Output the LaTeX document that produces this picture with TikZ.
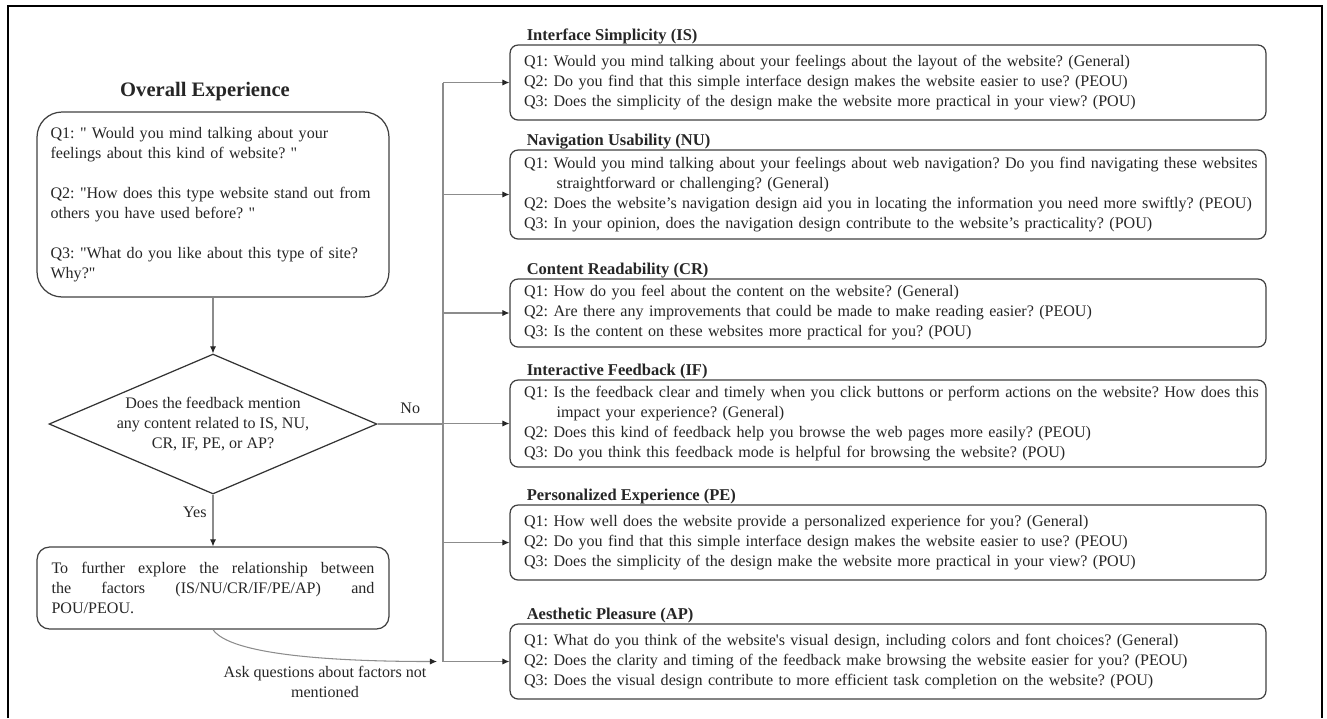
\documentclass[tikz,border=0pt]{standalone}
\usepackage{fontspec}
\newfontfamily\figfont{Liberation Serif}
\usetikzlibrary{positioning,shapes.geometric,arrows.meta}

\begin{document}
\figfont\frenchspacing
\begin{tikzpicture}[
    x=0.02cm, y=-0.02cm,
    txt/.style={font=\fontsize{9.15}{11.4}\selectfont, text=black!85},
    qbox/.style={txt, draw=black!75, line width=0.7pt, rounded corners=0.16cm,
        text width=14.56cm, inner xsep=0.28cm, inner ysep=0pt, align=left},
    qtitle/.style={font=\fontsize{9.4}{11.4}\selectfont\bfseries, text=black!85, inner sep=0pt},
    obox/.style={txt, draw=black!75, line width=0.7pt, rounded corners=0.5cm,
        text width=6.5cm, inner xsep=0.27cm, minimum height=3.7cm, align=left},
    ebox/.style={txt, draw=black!75, line width=0.7pt, rounded corners=0.25cm,
        text width=6.46cm, inner xsep=0.29cm, minimum height=1.64cm, align=justify},
    decide/.style={txt, diamond, draw=black!80, line width=0.7pt, align=center,
        minimum width=6.56cm, minimum height=2.8cm, aspect=2.3, inner sep=0pt},
    link/.style={draw=black!45, line width=0.6pt},
    flow/.style={link, -{Latex[length=4pt,width=3.5pt,color=black!85]}}
    ]

    \useasboundingbox (0,0) rectangle (1327,718);
    \draw[line width=1.3pt] (8,718) -- (8,6) -- (1322,6) -- (1322,718);

    \node[obox] (overall) at (213,204.5) {Q1: " Would you mind talking about your\\feelings about this kind of website? "\\[11.4pt]Q2: "How does this type website stand out from\\others you have used before? "\\[11.4pt]Q3: "What do you like about this type of site?\\Why?"};
    \node[font=\fontsize{11.7}{14}\selectfont\bfseries, text=black!85, inner sep=0pt,
        above=0.2cm of overall, xshift=-0.16cm] (overallT) {Overall Experience};
    \node[decide] (decide) at (213,424) {Does the feedback mention\\any content related to IS, NU,\\CR, IF, PE, or AP?};
    \node[ebox] (explore) at (213,588) {To further explore the relationship between\linebreak the factors (IS/NU/CR/IF/PE/AP) and\linebreak POU/PEOU.};
    \node[txt, align=center] (ask) at (325,682) {Ask questions about factors not\\mentioned};

    \node[qbox, minimum height=1.5cm] (IS) at (888,82.5) {Q1: Would you mind talking about your feelings about the layout of the website? (General)\\Q2: Do you find that this simple interface design makes the website easier to use? (PEOU)\\Q3: Does the simplicity of the design make the website more practical in your view? (POU)};
    \node[qbox, minimum height=1.78cm] (NU) at (888,194.5) {\mbox{Q1: Would you mind talking about your feelings about web navigation? Do you find navigating these websites}\\\hspace*{0.65cm}straightforward or challenging? (General)\\\mbox{Q2: Does the website’s navigation design aid you in locating the information you need more swiftly? (PEOU)}\\Q3: In your opinion, does the navigation design contribute to the website’s practicality? (POU)};
    \node[qbox, minimum height=1.36cm] (CR) at (888,313) {Q1: How do you feel about the content on the website? (General)\\Q2: Are there any improvements that could be made to make reading easier? (PEOU)\\Q3: Is the content on these websites more practical for you? (POU)};
    \node[qbox, minimum height=1.74cm] (IF) at (888,423.5) {\mbox{Q1: Is the feedback clear and timely when you click buttons or perform actions on the website? How does this}\\\hspace*{0.65cm}impact your experience? (General)\\Q2: Does this kind of feedback help you browse the web pages more easily? (PEOU)\\Q3: Do you think this feedback mode is helpful for browsing the website? (POU)};
    \node[qbox, minimum height=1.5cm] (PE) at (888,542.5) {Q1: How well does the website provide a personalized experience for you? (General)\\Q2: Do you find that this simple interface design makes the website easier to use? (PEOU)\\Q3: Does the simplicity of the design make the website more practical in your view? (POU)};
    \node[qbox, minimum height=1.5cm] (AP) at (888,661.5) {Q1: What do you think of the website's visual design, including colors and font choices? (General)\\Q2: Does the clarity and timing of the feedback make browsing the website easier for you? (PEOU)\\Q3: Does the visual design contribute to more efficient task completion on the website? (POU)};

    \node[qtitle, above right=0pt and 0.34cm of IS.north west] (IStitle) {Interface Simplicity (IS)};
    \node[qtitle, above right=0pt and 0.34cm of NU.north west] (NUtitle) {Navigation Usability (NU)};
    \node[qtitle, above right=0pt and 0.34cm of CR.north west] (CRtitle) {Content Readability (CR)};
    \node[qtitle, above right=0pt and 0.34cm of IF.north west] (IFtitle) {Interactive Feedback (IF)};
    \node[qtitle, above right=0pt and 0.34cm of PE.north west] (PEtitle) {Personalized Experience (PE)};
    \node[qtitle, above right=0pt and 0.34cm of AP.north west] (APtitle) {Aesthetic Pleasure (AP)};

    \coordinate (trunk) at (443,0);

    \draw[flow] (overall) -- (decide);
    \draw[flow] (decide) -- node[txt, left, pos=0.35]{Yes} (explore);
    \draw[link] (decide.east) -- node[txt, above=2pt]{No} (decide.east -| trunk);
    \draw[link] (IS.west -| trunk) -- (AP.west -| trunk);
    \draw[flow] (IS.west -| trunk) -- (IS.west);
    \draw[flow] (NU.west -| trunk) -- (NU.west);
    \draw[flow] (CR.west -| trunk) -- (CR.west);
    \draw[flow] (IF.west -| trunk) -- (IF.west);
    \draw[flow] (PE.west -| trunk) -- (PE.west);
    \draw[flow] (AP.west -| trunk) -- (AP.west);
    \draw[flow] (explore.south) .. controls +(17,25) and +(-107,0) .. ([xshift=-0.12cm]AP.west -| trunk);

\end{tikzpicture}
\end{document}
